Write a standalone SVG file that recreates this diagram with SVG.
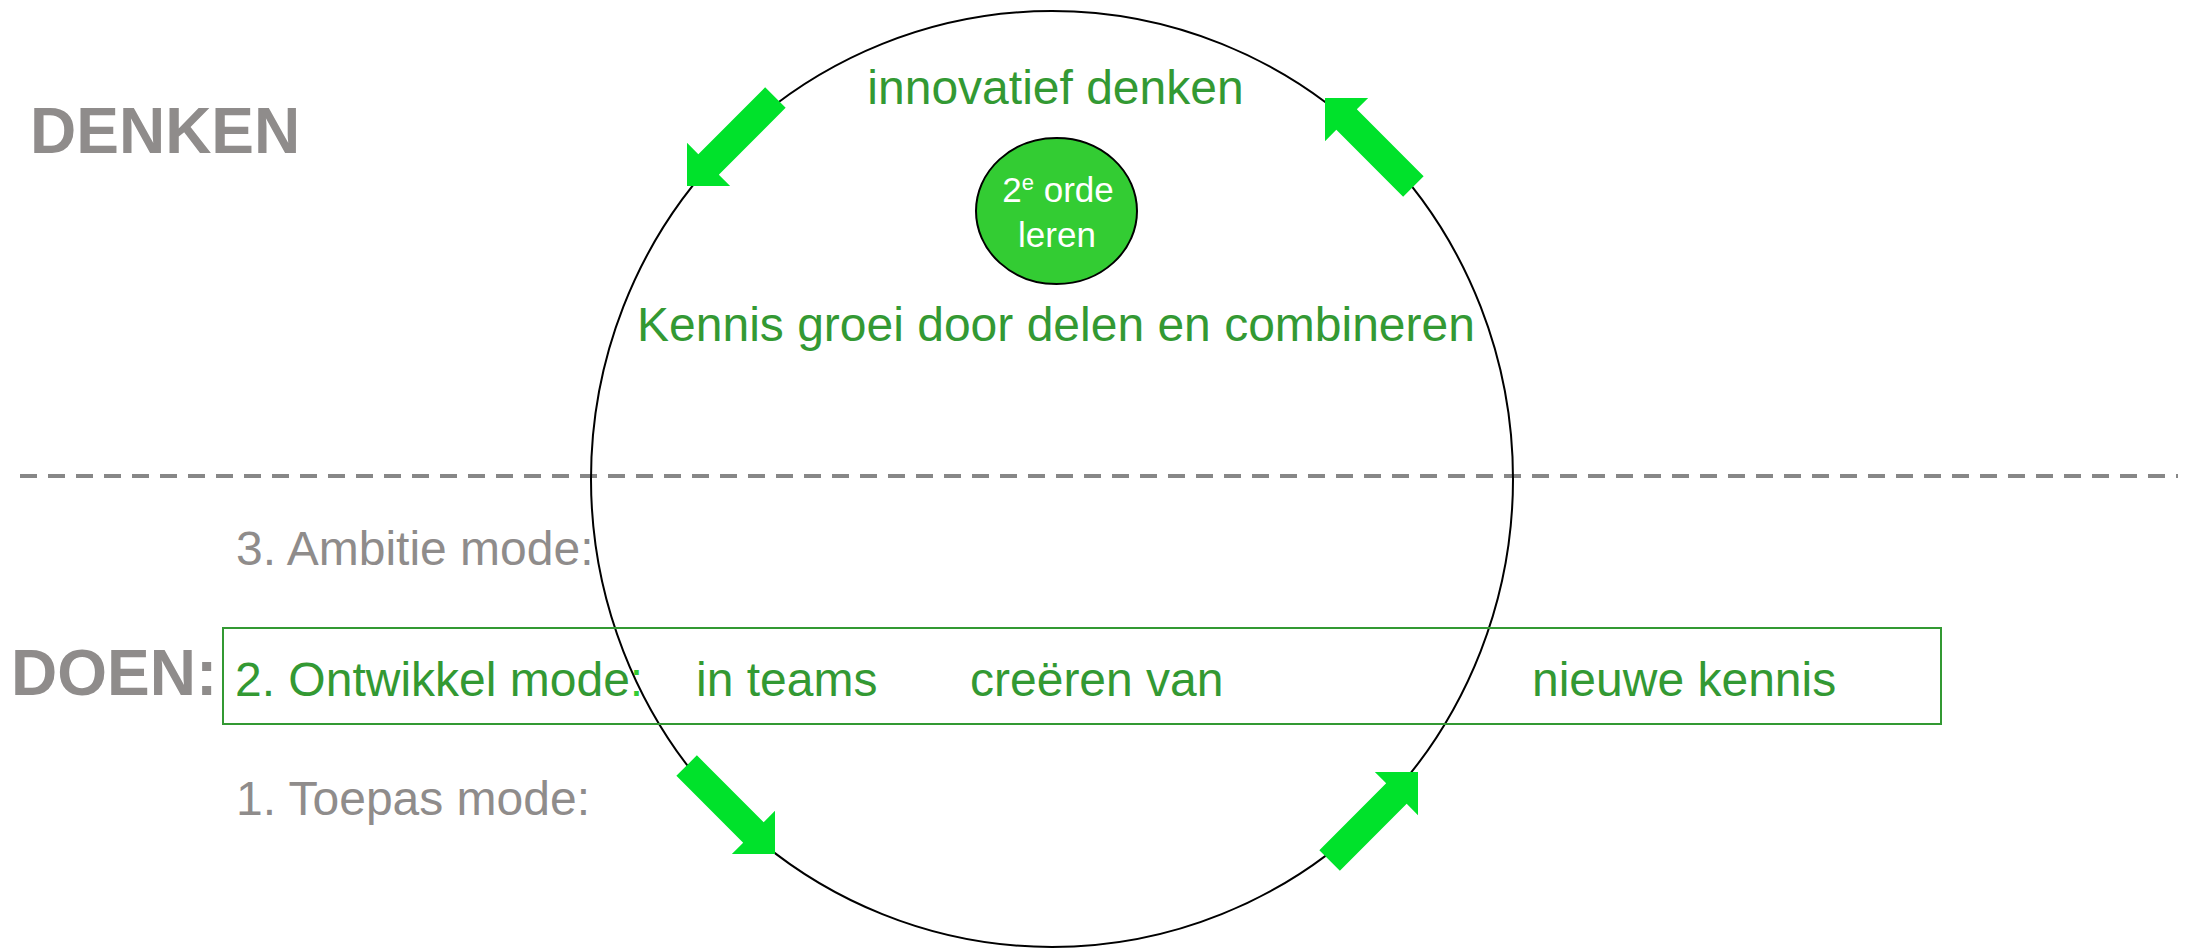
<svg xmlns="http://www.w3.org/2000/svg" xmlns:xlink="http://www.w3.org/1999/xlink" width="2190" height="948" viewBox="0 0 2190 948">
<style>
  text { font-family: "Liberation Sans", Arial, sans-serif; }
  .big { font-size: 64px; font-weight: bold; fill: #8f8c8b; }
  .gray { font-size: 48px; fill: #8f8c8b; }
  .green { font-size: 48px; fill: #339933; }
  .white { font-size: 35px; fill: #ffffff; }
  .arrow { fill: #00e22b; }
</style>
<defs>
  <polygon id="blockArrow" points="0,0 -30.5,-30.5 -30.5,-14.5 -125,-14.5 -125,14.5 -30.5,14.5 -30.5,30.5"/>
</defs>
<rect width="2190" height="948" fill="#ffffff"/>

<g id="divider">
  <line x1="20" y1="476" x2="2178" y2="476" stroke="#878787" stroke-width="4" stroke-dasharray="17,11"/>
</g>

<g id="cycle">
  <ellipse cx="1052" cy="479" rx="461" ry="468" fill="none" stroke="#000000" stroke-width="2"/>
</g>

<g id="connectors">
  <use xlink:href="#blockArrow" class="arrow" transform="translate(687,186) rotate(135)"/>
  <use xlink:href="#blockArrow" class="arrow" transform="translate(1325,98) rotate(-135)"/>
  <use xlink:href="#blockArrow" class="arrow" transform="translate(775,854) rotate(45)"/>
  <use xlink:href="#blockArrow" class="arrow" transform="translate(1418,772) rotate(-45)"/>
</g>

<g id="label-denken">
  <text class="big" x="30" y="153">DENKEN</text>
</g>
<g id="label-doen">
  <text class="big" x="11" y="695">DOEN:</text>
</g>

<g id="innovatief">
  <text class="green" x="1055.5" y="104" text-anchor="middle">innovatief denken</text>
</g>

<g id="orde-leren">
  <ellipse cx="1056.5" cy="211" rx="80.5" ry="73" fill="#33cc33" stroke="#000000" stroke-width="2"/>
  <text class="white" x="1058" y="202" text-anchor="middle">2<tspan font-size="22" dy="-12">e</tspan><tspan dy="12"> orde</tspan></text>
  <text class="white" x="1057" y="247" text-anchor="middle">leren</text>
</g>

<g id="kennis-groei">
  <text class="green" x="1056" y="341" text-anchor="middle">Kennis groei door delen en combineren</text>
</g>

<g id="ambitie">
  <text class="gray" x="236" y="565">3. Ambitie mode:</text>
</g>

<g id="ontwikkel">
  <rect x="223" y="628" width="1718" height="96" fill="none" stroke="#339933" stroke-width="2"/>
  <text class="green" x="235" y="695.5">2. Ontwikkel mode<tspan fill="#33cc33">:</tspan></text>
  <text class="green" x="696" y="695.5">in teams</text>
  <text class="green" x="970" y="695.5">creëren van</text>
  <text class="green" x="1532" y="695.5">nieuwe kennis</text>
</g>

<g id="toepas">
  <text class="gray" x="236" y="815">1. Toepas mode:</text>
</g>
</svg>
